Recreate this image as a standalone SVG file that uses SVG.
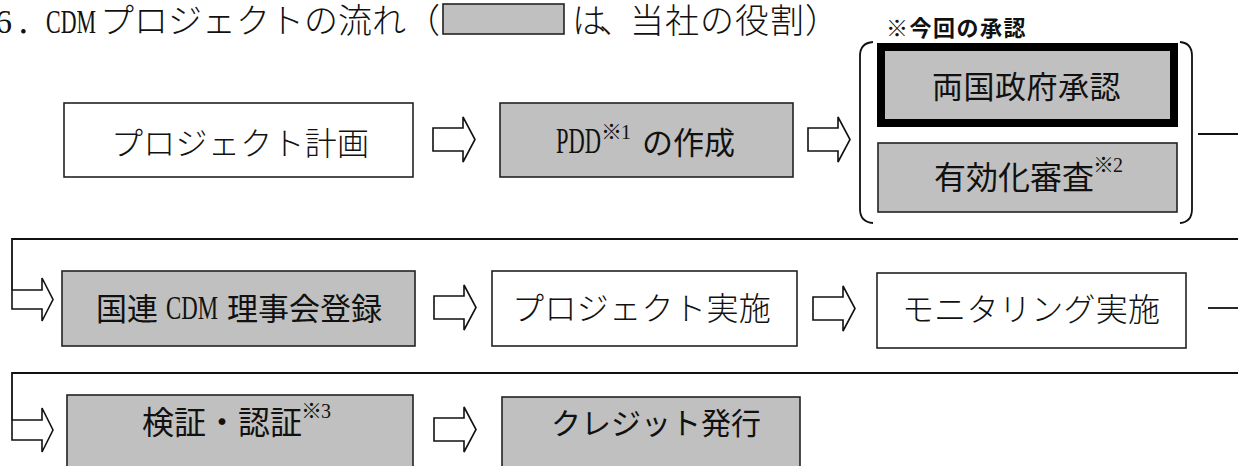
<svg xmlns="http://www.w3.org/2000/svg" width="1238" height="466" viewBox="0 0 1238 466">
<style>
.bg{fill:#ffffff}
.wbox{fill:#ffffff;stroke:#222;stroke-width:1.6}
.gbox{fill:#c0c0c0;stroke:#222;stroke-width:1.6}
.thick{fill:#c0c0c0;stroke:#000;stroke-width:8}
.arrow{fill:#ffffff;stroke:#111;stroke-width:1.6;stroke-linejoin:miter}
.line{fill:none;stroke:#111;stroke-width:1.8}
.br{fill:none;stroke:#111;stroke-width:1.8}
.min{font-family:"Noto Sans CJK JP","Noto Sans CJK SC",sans-serif;font-weight:300;fill:#111}
.got{font-family:"Noto Sans CJK JP","Noto Sans CJK SC",sans-serif;font-weight:400;fill:#111}
.lat{font-family:"Liberation Serif","Noto Sans CJK JP",serif;font-weight:400}
.sup{font-family:"Noto Sans CJK JP","Noto Sans CJK SC",sans-serif;font-weight:700}
.supn{font-family:"Liberation Serif","Noto Sans CJK JP",serif;font-weight:400}
.lbl{font-family:"Liberation Sans","Noto Sans CJK JP",sans-serif;font-weight:700;fill:#111}
</style>
<rect class="bg" x="0" y="0" width="1238" height="466"/>

<g id="title">
<text class="min" y="33" font-size="34"><tspan class="lat" x="-5">6</tspan><tspan x="16">．</tspan><tspan class="lat" x="46" textLength="50" lengthAdjust="spacingAndGlyphs">CDM</tspan><tspan x="100">プロジェクトの流れ（</tspan></text>
<rect class="gbox" x="443" y="4" width="121" height="30"/>
<text class="min" y="33" font-size="34"><tspan x="572">は</tspan><tspan x="599">、</tspan><tspan x="630" letter-spacing="1">当社の役割）</tspan></text>
</g>

<g id="label-approval">
<text class="lbl" x="886" y="36" font-size="22" letter-spacing="1.5">※今回の承認</text>
</g>

<g id="connectors">
<polygon class="arrow" points="433,128 463,128 463,117 475,139.5 463,162 463,151 433,151"/>
<polygon class="arrow" points="808,128 838,128 838,117 850,139.5 838,162 838,151 808,151"/>
<path class="br" d="M873,42 Q860,43 860,56 V209 Q860,222 873,223"/>
<path class="br" d="M1180,42 Q1192,43 1192,56 V209 Q1192,222 1180,223"/>
<line class="line" x1="1198" y1="134" x2="1238" y2="134"/>
<path class="line" d="M1238,239 H12 V290"/>
<polygon class="arrow" points="12,290 42,290 42,278 53,299.5 42,321 42,309 12,309"/>
<polygon class="arrow" points="434,296 464,296 464,285 476,307.5 464,330 464,319 434,319"/>
<polygon class="arrow" points="813,297 843,297 843,286 855,308.5 843,331 843,320 813,320"/>
<line class="line" x1="1208" y1="308" x2="1238" y2="308"/>
<path class="line" d="M1238,373 H12 V420"/>
<polygon class="arrow" points="12,420 42,420 42,408 53,430 42,452 42,440 12,440"/>
<polygon class="arrow" points="434,418 464,418 464,407 476,429.5 464,452 464,441 434,441"/>
</g>

<g id="node-plan">
<rect class="wbox" x="64" y="103" width="349" height="74"/>
<text class="min" x="111" y="155" font-size="32" letter-spacing="0.3">プロジェクト計画</text>
</g>

<g id="node-pdd">
<rect class="gbox" x="500" y="103" width="293" height="74"/>
<text class="got" y="154" font-size="31"><tspan class="lat" x="556" y="153" font-size="36" textLength="45" lengthAdjust="spacingAndGlyphs">PDD</tspan><tspan class="sup" x="601" y="139" font-size="21">※</tspan><tspan class="supn" x="621" y="139" font-size="20">1</tspan><tspan x="642" y="154">の作成</tspan></text>
</g>

<g id="node-gov">
<rect class="thick" x="881" y="47" width="293" height="76"/>
<text class="got" x="932" y="98" font-size="31" letter-spacing="0.5">両国政府承認</text>
</g>

<g id="node-validation">
<rect class="gbox" x="878" y="143" width="299" height="69"/>
<text class="got" y="189" font-size="32"><tspan x="934">有効化審査</tspan><tspan class="sup" x="1093" y="172" font-size="21">※</tspan><tspan class="supn" x="1113" y="172" font-size="20">2</tspan></text>
</g>

<g id="node-register">
<rect class="gbox" x="62" y="271" width="353" height="75"/>
<text class="got" y="320" font-size="31"><tspan x="96">国連</tspan><tspan class="lat" x="166" y="319" font-size="34" textLength="52" lengthAdjust="spacingAndGlyphs">CDM</tspan><tspan x="227" y="320">理事会登録</tspan></text>
</g>

<g id="node-implement">
<rect class="wbox" x="492" y="271" width="305" height="75"/>
<text class="min" x="512" y="320" font-size="32" letter-spacing="0.4">プロジェクト実施</text>
</g>

<g id="node-monitoring">
<rect class="wbox" x="877" y="273" width="309" height="75"/>
<text class="min" x="902" y="321" font-size="32" letter-spacing="0.3">モニタリング実施</text>
</g>

<g id="node-verification">
<rect class="gbox" x="67" y="395" width="346" height="95"/>
<text class="got" y="434" font-size="32"><tspan x="142">検証・認証</tspan><tspan class="sup" x="301" y="418" font-size="21">※</tspan><tspan class="supn" x="321" y="418" font-size="20">3</tspan></text>
</g>

<g id="node-credit">
<rect class="gbox" x="502" y="397" width="298" height="95"/>
<text class="got" x="551" y="434" font-size="30">クレジット発行</text>
</g>
</svg>
